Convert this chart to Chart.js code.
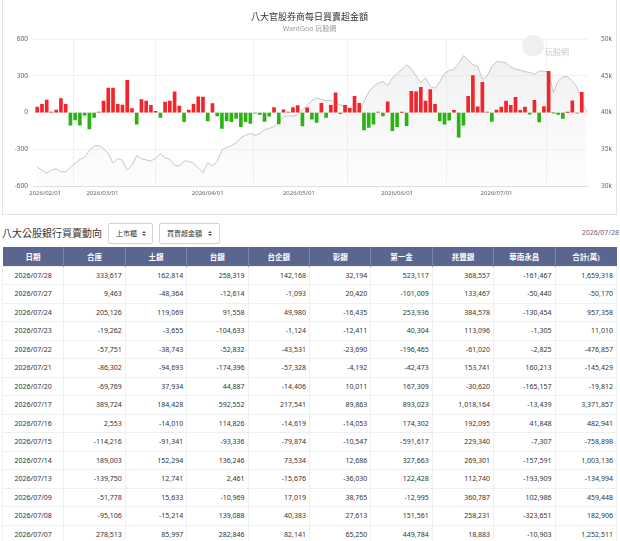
<!DOCTYPE html>
<html>
<head>
<meta charset="utf-8">
<script src="https://cdn.jsdelivr.net/npm/chart.js@4.4.1/dist/chart.umd.min.js"></script>
<style>
  body { margin: 0; background: #fff; font-family: "Noto Sans", "Noto Sans CJK TC", sans-serif; color: #333; }
  #card { position: absolute; left: 2px; top: -1px; width: 615px; height: 216px; box-sizing: border-box; border: 1px solid #e4e4e4; }
  #chartBox { position: absolute; left: 0; top: 0; width: 613px; height: 214px; }
  .mark { position: absolute; color: #c9c9c9; font-size: 8px; }
  .face { position: absolute; left: 519px; top: 35px; width: 22px; height: 21px; border-radius: 50% 50% 45% 45%; background: #efefef; }
  #heading { position: absolute; left: 2px; top: 226px; font-size: 10px; line-height: 14px; color: #333; }
  .sel { position: absolute; top: 223px; height: 21px; box-sizing: border-box; border: 1px solid #d4d4d4; border-radius: 2px; font-size: 7px; line-height: 19px; padding-left: 7px; color: #333; }
  .sel i { position: absolute; top: 7px; width: 0; height: 0; border-left: 2px solid transparent; border-right: 2px solid transparent; }
  .sel i.up { border-bottom: 2px solid #555; }
  .sel i.dn { top: 10px; border-top: 2px solid #555; }
  #stamp { position: absolute; right: 1px; top: 227px; font-size: 7px; line-height: 12px; color: #666; }
  table { position: absolute; left: 2px; top: 247px; width: 615px; table-layout: fixed; border-collapse: collapse; }
  th { background: #5a6690; color: #fff; font-size: 7.5px; font-weight: 600; height: 18.5px; padding: 0; border-left: 1px solid #7a86a8; text-align: center; }
  th:first-child { border-left: none; }
  td { font-size: 7px; height: 17.5px; line-height: 9px; padding: 0 3px; text-align: right; border: 1px solid #efefef; color: #333; }
  td:first-child { text-align: center; }
</style>
</head>
<body>
<div id="card">
  <div id="chartBox"><canvas id="myChart"></canvas></div>
  <div class="face"></div>
  <div class="mark" style="left:542px;top:46px;">玩股網</div>
</div>

<div id="heading">八大公股銀行買賣動向</div>
<div class="sel" style="left:108px;width:45px;">上市櫃<i class="up" style="left:33px"></i><i class="dn" style="left:33px"></i></div>
<div class="sel" style="left:159px;width:61px;">買賣超金額<i class="up" style="left:48px"></i><i class="dn" style="left:48px"></i></div>
<div id="stamp">2026/07/28</div>
<table id="tbl"></table>

<script>
// trading days (last one only has an index value)
const dates = [
    '2026/01/29', '2026/01/30',
    '2026/02/02', '2026/02/03', '2026/02/04', '2026/02/05', '2026/02/06', '2026/02/09', '2026/02/10', '2026/02/11',
    '2026/02/23', '2026/02/24', '2026/02/25', '2026/02/26',
    '2026/03/02', '2026/03/03', '2026/03/04', '2026/03/05', '2026/03/06', '2026/03/09', '2026/03/10', '2026/03/11',
    '2026/03/12', '2026/03/13', '2026/03/16', '2026/03/17', '2026/03/18', '2026/03/19', '2026/03/20', '2026/03/23',
    '2026/03/24', '2026/03/25', '2026/03/26', '2026/03/27', '2026/03/30', '2026/03/31',
    '2026/04/01', '2026/04/02', '2026/04/07', '2026/04/08', '2026/04/09', '2026/04/10', '2026/04/13', '2026/04/14',
    '2026/04/15', '2026/04/16', '2026/04/17', '2026/04/20', '2026/04/21', '2026/04/22', '2026/04/23', '2026/04/24',
    '2026/04/27', '2026/04/28', '2026/04/29', '2026/04/30',
    '2026/05/04', '2026/05/05', '2026/05/06', '2026/05/07', '2026/05/08', '2026/05/11', '2026/05/12', '2026/05/13',
    '2026/05/14', '2026/05/15', '2026/05/18', '2026/05/19', '2026/05/20', '2026/05/21', '2026/05/22', '2026/05/25',
    '2026/05/26', '2026/05/27', '2026/05/28', '2026/05/29',
    '2026/06/01', '2026/06/02', '2026/06/03', '2026/06/04', '2026/06/05', '2026/06/08', '2026/06/09', '2026/06/10',
    '2026/06/11', '2026/06/12', '2026/06/15', '2026/06/16', '2026/06/17', '2026/06/18', '2026/06/22', '2026/06/23',
    '2026/06/24', '2026/06/25', '2026/06/26', '2026/06/29', '2026/06/30',
    '2026/07/01', '2026/07/02', '2026/07/03', '2026/07/06', '2026/07/07', '2026/07/08', '2026/07/09', '2026/07/13',
    '2026/07/14', '2026/07/15', '2026/07/16', '2026/07/17', '2026/07/20', '2026/07/21', '2026/07/22', '2026/07/23',
    '2026/07/24', '2026/07/27', '2026/07/28', '2026/07/29'
];

// 買賣超金額 (億)
const netBuy = [
    46, 67,
    102, 3, 21, 115, 67, -102, -59, -102, -21, -134, -40, 5,
    94, 201, 201, 67, 62, 263, 32, -94, 107, 94, 59, 11, -40, 86, 94, 169, 54, -75, 21, 67, 129, 126,
    -67, 73, -27, -130, -68, -74, -48, -116, -74, -89, -3, -14, -73, -30, 41, -92, 22, 5, 41, 57,
    -108, 38, -54, -80, 75, -40, 59, 161, -8, 59, 35, 134, 75, -142, -121, -94, 5, -27, 88, -147,
    -115, 2, -107, 174, 169, 206, 94, 188, 67, -67, -94, -62, 19, -201, -102, 134, 303, 48, 247, 3, -72,
    21, 46, 94, 59, 125.3, 18.3, 45.9, -13.5, 100.3, -75.9, 48.3, 337.2, -2.0, -14.5, -47.7, 1.1, 95.7, -5.0, 165.9
];

// 加權指數
const indexLine = [
    32600, 32150,
    31750, 32180, 32370, 31950, 31900, 32550, 33100, 33630, 33900, 34850, 35450, 35500,
    35100, 34450, 33100, 33720, 33500, 32180, 32850, 34150, 33700, 33550, 33400, 33800, 34400, 33820,
    33650, 32850, 32700, 33400, 33350, 33100, 32500, 31820,
    33180, 32720, 33400, 34900, 35250, 35530, 35870, 36560, 36930, 37150, 36900, 37150, 37700, 37830,
    38100, 38650, 39450, 39580, 39500, 39700,
    40350, 41000, 41600, 42000, 41800, 41600, 41700, 41300, 41050, 40850, 40500, 40250, 40100, 41500,
    42800, 43600, 44000, 44250, 43700, 44700,
    45300, 45900, 46500, 46000, 45000, 44100, 44750, 43600, 43300, 44200, 45350, 45750, 45900, 46700,
    47750, 47150, 46550, 46350, 44550, 44950, 46300,
    46950, 46900, 46800, 46200, 45900, 45800, 45600, 45450, 45250, 45650, 45650, 45500, 42700, 44300,
    44900, 44900, 44300, 43500, 41700, 40100
];

const leftTicks = [-600, -300, 0, 300, 600];
const rightTicks = [30000, 35000, 40000, 45000, 50000];

const tableCols = ['日期', '合庫', '土銀', '台銀', '台企銀', '彰銀', '第一金', '兆豐銀', '華南永昌', '合計(萬)'];
const tableRows = [
    ['2026/07/28', '333,617', '162,814', '258,319', '142,168', '32,194', '523,117', '368,557', '-161,467', '1,659,318'],
    ['2026/07/27', '9,463', '-48,364', '-12,614', '-1,093', '20,420', '-101,009', '133,467', '-50,440', '-50,170'],
    ['2026/07/24', '205,126', '119,069', '91,558', '49,980', '-16,435', '253,936', '384,578', '-130,454', '957,358'],
    ['2026/07/23', '-19,262', '-3,655', '-104,633', '-1,124', '-12,411', '40,304', '113,096', '-1,305', '11,010'],
    ['2026/07/22', '-57,751', '-38,743', '-52,832', '-43,531', '-23,690', '-196,465', '-61,020', '-2,825', '-476,857'],
    ['2026/07/21', '-86,302', '-94,693', '-174,396', '-57,328', '-4,192', '-42,473', '153,741', '160,213', '-145,429'],
    ['2026/07/20', '-69,769', '37,934', '44,887', '-14,406', '10,011', '167,309', '-30,620', '-165,157', '-19,812'],
    ['2026/07/17', '389,724', '184,428', '592,552', '217,541', '89,863', '893,023', '1,018,164', '-13,439', '3,371,857'],
    ['2026/07/16', '2,553', '-14,010', '114,826', '-14,619', '-14,053', '174,302', '192,095', '41,848', '482,941'],
    ['2026/07/15', '-114,216', '-91,341', '-93,336', '-79,874', '-10,547', '-591,617', '229,340', '-7,307', '-758,898'],
    ['2026/07/14', '189,003', '152,294', '136,246', '73,534', '12,686', '327,663', '269,301', '-157,591', '1,003,136'],
    ['2026/07/13', '-139,750', '12,741', '2,461', '-15,676', '-36,030', '122,428', '112,740', '-193,909', '-134,994'],
    ['2026/07/09', '-51,778', '15,633', '-10,969', '17,019', '38,765', '-12,995', '360,787', '102,986', '459,448'],
    ['2026/07/08', '-95,106', '-15,214', '139,088', '40,383', '27,613', '151,561', '258,231', '-323,651', '182,906'],
    ['2026/07/07', '278,513', '85,997', '282,846', '82,141', '65,250', '449,784', '18,883', '-10,903', '1,252,511']
];

// table
let html = '<tr>' + tableCols.map(c => '<th>' + c + '</th>').join('') + '</tr>';
tableRows.forEach(r => {
    html += '<tr>' + r.map(c => '<td>' + c + '</td>').join('') + '</tr>';
});
document.getElementById('tbl').innerHTML = html;

// month ticks, placed between trading days by calendar time
function toTime(s) {
    const p = s.split('/').map(Number);
    return Date.UTC(p[0], p[1] - 1, p[2]);
}
const times = dates.map(toTime);
const monthTicks = [];
const monthLabels = {};
const first = new Date(times[0]);
for (let m = first.getUTCMonth() + 1; ; m++) {
    const t = Date.UTC(first.getUTCFullYear(), m, 1);
    if (t > times[times.length - 1]) break;
    const i = times.findIndex(v => v >= t);
    let pos = i;
    if (times[i] !== t) pos = i - 1 + (t - times[i - 1]) / (times[i] - times[i - 1]);
    const d = new Date(t);
    monthTicks.push(pos);
    monthLabels[pos.toFixed(3)] = d.getUTCFullYear() + '/' + String(d.getUTCMonth() + 1).padStart(2, '0') + '/01';
}

Chart.defaults.font.family = '"Noto Sans", "Noto Sans CJK TC", sans-serif';

const ctx = document.getElementById('myChart').getContext('2d');
const myChart = new Chart(ctx, {
    type: 'bar',
    data: {
        datasets: [{
            type: 'bar',
            label: '買賣超',
            data: netBuy.map((v, i) => ({ x: i, y: v })),
            yAxisID: 'y',
            backgroundColor: c => (c.raw && c.raw.y < 0) ? '#2ab312' : '#f0262b',
            barThickness: 3,
            order: 0
        }, {
            type: 'line',
            label: '加權指數',
            data: indexLine.map((v, i) => ({ x: i, y: v })),
            yAxisID: 'y1',
            borderColor: '#c6c6c6',
            borderWidth: 1,
            pointRadius: 0,
            tension: 0,
            fill: 'start',
            backgroundColor: c => {
                const a = c.chart.chartArea;
                if (!a) return 'rgba(235,235,235,0.4)';
                const g = c.chart.ctx.createLinearGradient(0, a.top, 0, a.bottom);
                g.addColorStop(0, 'rgba(215,215,215,0.45)');
                g.addColorStop(1, 'rgba(240,240,240,0.15)');
                return g;
            },
            order: 1
        }]
    },
    options: {
        responsive: true,
        maintainAspectRatio: false,
        animation: false,
        layout: { padding: 0 },
        plugins: {
            legend: { display: false },
            tooltip: { enabled: false },
            title: {
                display: true,
                text: '八大官股券商每日買賣超金額',
                color: '#333',
                font: { size: 9, weight: 'normal' },
                padding: { top: 12, bottom: 1 }
            },
            subtitle: {
                display: true,
                text: 'WantGoo 玩股網',
                color: '#9a9a9a',
                font: { size: 7 },
                padding: { top: 1, bottom: 6 }
            }
        },
        scales: {
            x: {
                type: 'linear',
                min: -0.9,
                max: dates.length - 0.9,
                offset: false,
                afterBuildTicks: s => { s.ticks = monthTicks.map(v => ({ value: v })); },
                afterFit: s => { s.height = 28; },
                grid: { color: '#f0f0f0', drawTicks: false },
                border: { color: '#dedede' },
                ticks: {
                    autoSkip: false,
                    maxRotation: 0,
                    padding: 4,
                    color: '#666',
                    font: { size: 6 },
                    callback: v => monthLabels[Number(v).toFixed(3)] || ''
                }
            },
            y: {
                position: 'left',
                min: -600,
                max: 600,
                afterBuildTicks: s => { s.ticks = leftTicks.map(v => ({ value: v })); },
                afterFit: s => { s.width = 30; },
                grid: { color: '#f0f0f0', drawTicks: false },
                border: { display: false },
                ticks: { padding: 5, color: '#666', font: { size: 6.5 } }
            },
            y1: {
                position: 'right',
                min: 30000,
                max: 50000,
                afterBuildTicks: s => { s.ticks = rightTicks.map(v => ({ value: v })); },
                afterFit: s => { s.width = 29; },
                grid: { display: false },
                border: { display: false },
                ticks: { padding: 6, color: '#666', font: { size: 6.5 }, callback: v => (v / 1000) + 'k' }
            }
        }
    }
});
</script>
</body>
</html>
